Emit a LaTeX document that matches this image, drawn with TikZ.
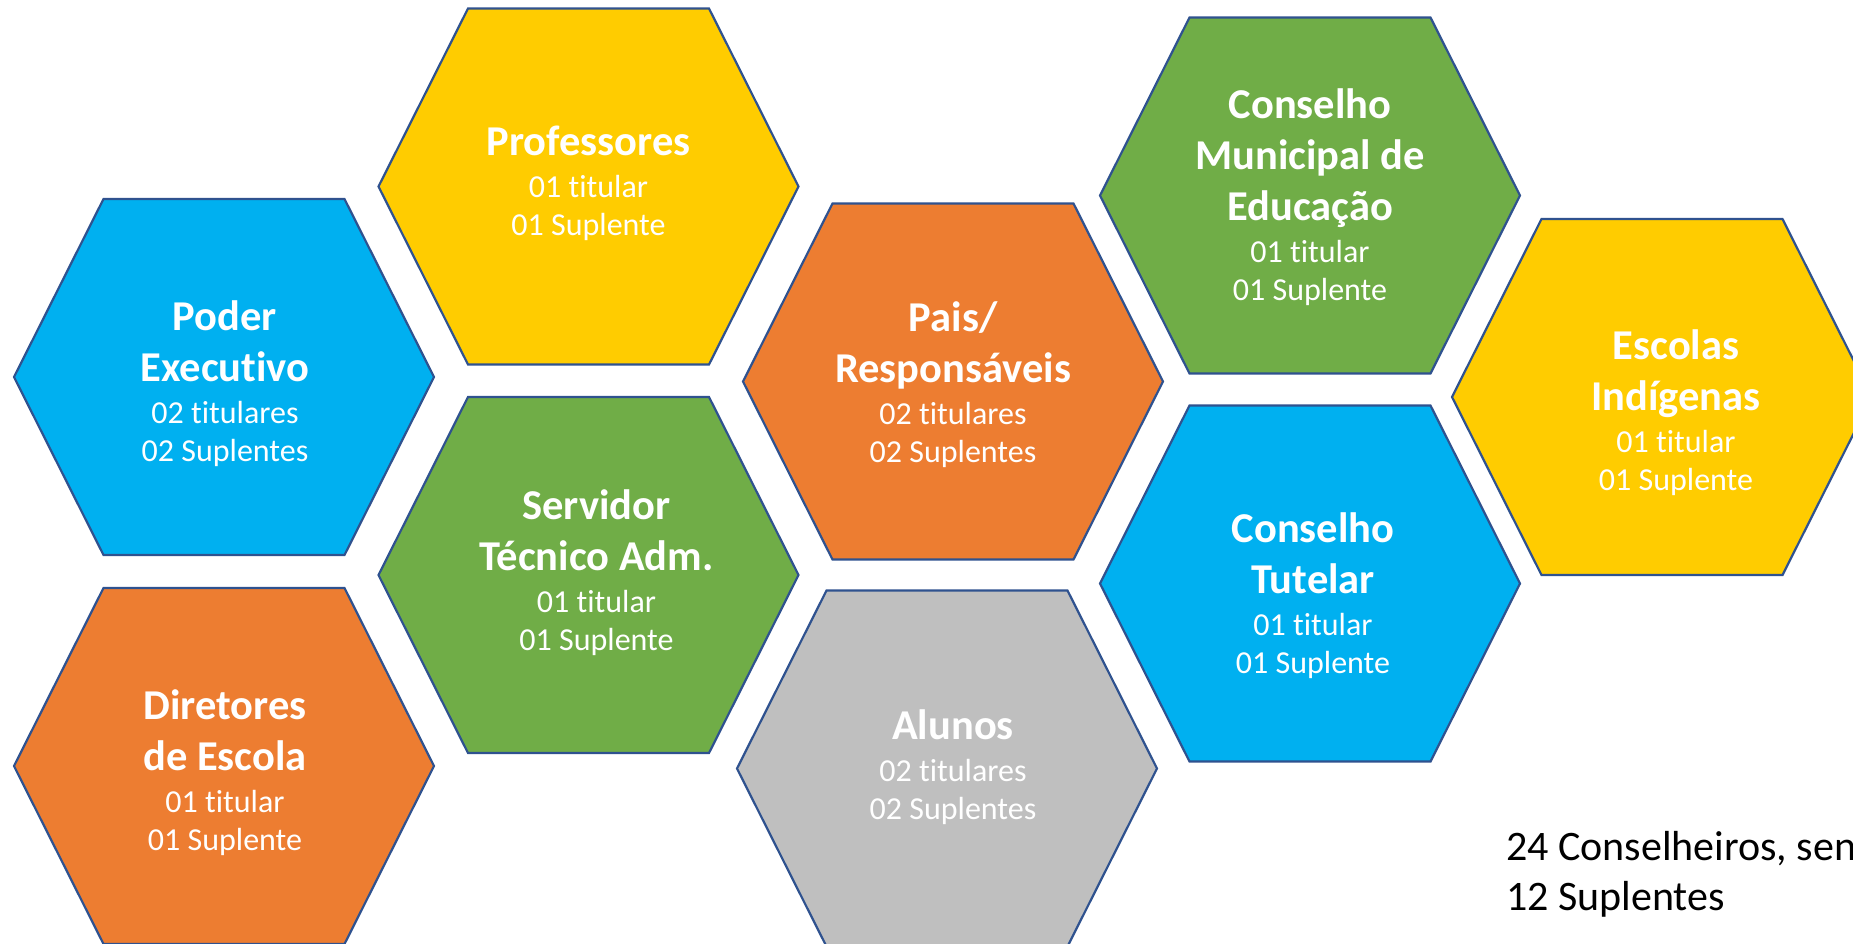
\documentclass[tikz,border=0pt]{standalone}
\usepackage{fontspec}
\setmainfont{Carlito}[Ligatures=NoCommon]
\usepackage{xcolor}
\usetikzlibrary{positioning}

\definecolor{hexblue}{HTML}{00B0F0}
\definecolor{hexyellow}{HTML}{FFCC00}
\definecolor{hexgreen}{HTML}{70AD47}
\definecolor{hexorange}{HTML}{ED7D31}
\definecolor{hexgray}{HTML}{BFBFBF}
\definecolor{hexborder}{HTML}{2F528F}

\newcommand{\ctitle}[1]{{\fontsize{42.5}{51}\selectfont\bfseries #1}}

\begin{document}
\begin{tikzpicture}[%
    x=1pt,
    y=-1pt,
    hexcell/.style={%
      fill=#1,
      draw=hexborder,
      line width=2.2pt,
      line join=miter
    },
    seat/.style={%
      text=white,
      align=center,
      inner sep=0pt,
      font=\fontsize{32}{38}\selectfont
    },
    total/.style={%
      anchor=base west,
      inner sep=0pt,
      font=\fontsize{42}{50}\selectfont
    }
  ]
    \useasboundingbox (0,0) rectangle (1853,943);
    \clip (0,0) rectangle (1853,943);

    % centres of the cells
    \coordinate (pe) at (224,377);
    \coordinate (de) at (224,766);
    \coordinate (pr) at (588.5,186.5);
    \coordinate (st) at (588.5,575);
    \coordinate (pa) at (953,381.5);
    \coordinate (al) at (947,768.5);
    \coordinate (cm) at (1310,195.5);
    \coordinate (ct) at (1310,583.5);
    \coordinate (ei) at (1662,397);

    \foreach \c/\col in {pe/hexblue, de/hexorange, pr/hexyellow, st/hexgreen,
                         pa/hexorange, al/hexgray, cm/hexgreen, ct/hexblue,
                         ei/hexyellow}
      \draw[hexcell=\col, shift={(\c)}]
        (-210,0) -- (-120.5,-178) -- (120.5,-178) -- (210,0)
        -- (120.5,178) -- (-120.5,178) -- cycle;

    \node[seat, xshift=1pt, yshift=-7pt] (pe-t) at (pe) {\ctitle{Poder}\\[13pt]\ctitle{Executivo}\\[4pt]02 titulares\\02 Suplentes};
    \node[seat, xshift=1pt, yshift=-7pt] (de-t) at (de) {\ctitle{Diretores}\\[13pt]\ctitle{de Escola}\\[4pt]01 titular\\01 Suplente};
    \node[seat, yshift=3.5pt] (pr-t) at (pr) {\ctitle{Professores}\\[4pt]01 titular\\01 Suplente};
    \node[seat, xshift=8pt, yshift=2pt] (st-t) at (st) {\ctitle{Servidor}\\[13pt]\ctitle{Técnico Adm.}\\[4pt]01 titular\\01 Suplente};
    \node[seat, yshift=-3.5pt] (pa-t) at (pa) {\ctitle{Pais/}\\[13pt]\ctitle{Responsáveis}\\[4pt]02 titulares\\02 Suplentes};
    \node[seat, xshift=6pt, yshift=1pt] (al-t) at (al) {\ctitle{Alunos}\\[4pt]02 titulares\\02 Suplentes};
    \node[seat, yshift=-2pt] (cm-t) at (cm) {\ctitle{Conselho}\\[13pt]\ctitle{Municipal de}\\[13pt]\ctitle{Educação}\\[4pt]01 titular\\01 Suplente};
    \node[seat, xshift=3pt, yshift=-12pt] (ct-t) at (ct) {\ctitle{Conselho}\\[13pt]\ctitle{Tutelar}\\[4pt]01 titular\\01 Suplente};
    \node[seat, xshift=14pt, yshift=-16pt] (ei-t) at (ei) {\ctitle{Escolas}\\[13pt]\ctitle{Indígenas}\\[4pt]01 titular\\01 Suplente};

    \node[total] (sum) at (1506,860) {24 Conselheiros, sen};
    \node[total] (sup) at (1506,910) {12 Suplentes};
  \end{tikzpicture}
\end{document}
